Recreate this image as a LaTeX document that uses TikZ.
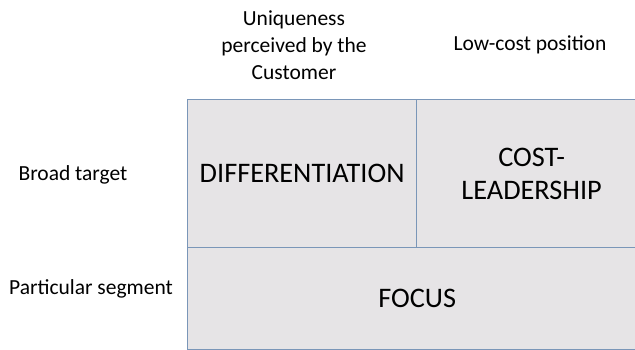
\documentclass[tikz,border=0pt]{standalone}
\usepackage{fontspec}
\setmainfont{Carlito}
\usepackage{tikz}
\usetikzlibrary{positioning}

\definecolor{cellfill}{RGB}{230,228,230}
\definecolor{cellline}{RGB}{122,150,184}

\begin{document}
\begin{tikzpicture}[x=1pt, y=-1pt,
	cell/.style={draw=cellline, line width=1.3pt, fill=cellfill, anchor=north west, inner sep=0pt, align=center, font=\fontsize{28.3}{33}\selectfont},
	axislabel/.style={align=center, inner sep=0pt, font=\fontsize{21.5}{27}\selectfont}]
	\useasboundingbox (0,0) rectangle (635,350);
	\clip (0,0) rectangle (635,350);
	% the three strategy cells
	\node[cell, minimum width=229pt, minimum height=148pt] (diff) at (187,99) {DIFFERENTIATION};
	\node[cell, minimum width=230pt, minimum height=148pt] (cost) at (416,99) {COST-\\LEADERSHIP};
	\node[cell, minimum width=459pt, minimum height=102pt] (focus) at (187,247) {FOCUS};
	% column heads
	\node[axislabel] (unique) at (294,45) {Uniqueness\\perceived by the\\Customer};
	\node[axislabel] (lowcost) at (530,45) {Low-cost position};
	% row heads
	\node[axislabel] (broad) at (73,175) {Broad target};
	\node[axislabel] (segment) at (91,289) {Particular segment};
\end{tikzpicture}
\end{document}
